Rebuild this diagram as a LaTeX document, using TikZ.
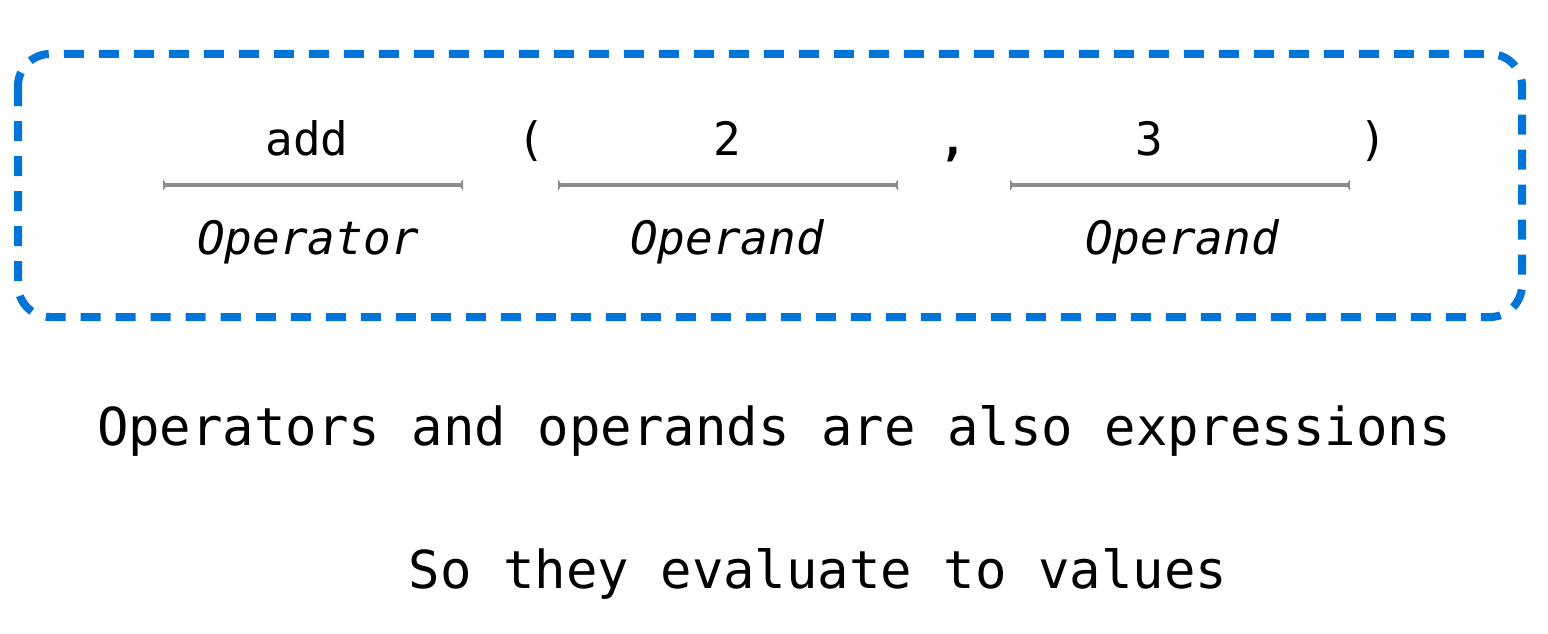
\documentclass[tikz,border=0pt]{standalone}
\usepackage{fontspec}
\setmonofont{DejaVu Sans Mono}
\usetikzlibrary{arrows.meta}
\definecolor{boxblue}{HTML}{0074D9}
\definecolor{bargray}{HTML}{8C8C8C}
\tikzset{
  code/.style={font=\ttfamily\fontsize{46}{50}\selectfont, inner sep=0pt, anchor=base},
  role/.style={font=\ttfamily\itshape\fontsize{46}{50}\selectfont, inner sep=0pt, anchor=base},
  caption/.style={font=\ttfamily\fontsize{52.3}{56}\selectfont, inner sep=0pt, anchor=base},
  bar/.style={draw=bargray, line width=3.6pt, {Triangle[reversed,length=4pt,width=11pt]}-{Triangle[reversed,length=4pt,width=11pt]}},
  groupbox/.style={draw=boxblue, line width=8pt, rounded corners=32pt, dash pattern=on 20pt off 15pt}
}
\begin{document}
\begin{tikzpicture}[x=1pt,y=-1pt]
\useasboundingbox (0,0) rectangle (1548,634);
\draw[groupbox] (18,54) rectangle (1522,317);
\node[code] (add) at (307,155) {add};
\node[code] (lp) at (531,155) {(};
\node[code] (two) at (727,155) {2};
\node[code] (comma) at (953,155) {\bfseries ,};
\node[code] (three) at (1149,155) {3};
\node[code] (rp) at (1373,155) {)};
\coordinate (b1l) at (163,185); \coordinate (b1r) at (463,185);
\coordinate (b2l) at (558,185); \coordinate (b2r) at (898,185);
\coordinate (b3l) at (1010,185); \coordinate (b3r) at (1350,185);
\draw[bar] (b1l) -- (b1r);
\draw[bar] (b2l) -- (b2r);
\draw[bar] (b3l) -- (b3r);
\node[role] (op) at (308,254) {Operator};
\node[role] (od1) at (727,254) {Operand};
\node[role] (od2) at (1182,254) {Operand};
\node[caption] (c1) at (774,445) {Operators and operands are also expressions};
\node[caption] (c2) at (818,588) {So they evaluate to values};
\end{tikzpicture}
\end{document}
